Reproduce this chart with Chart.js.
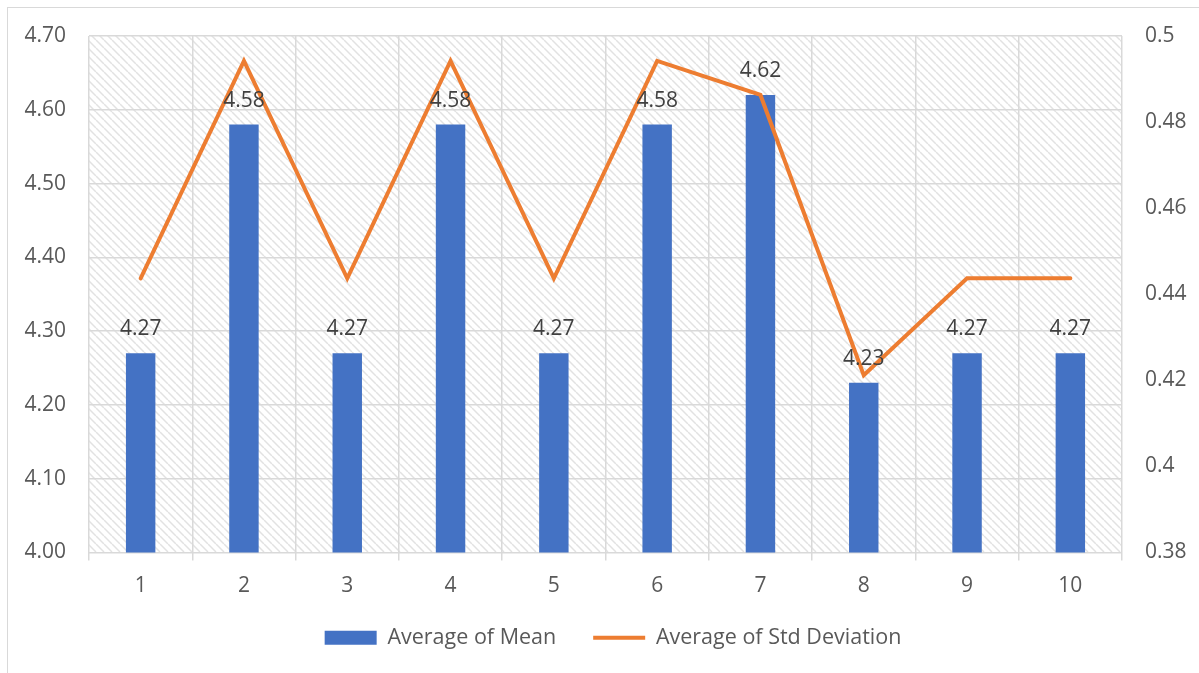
<!DOCTYPE html>
<html>
<head>
<meta charset="utf-8">
<script src="https://cdn.jsdelivr.net/npm/chart.js@4.4.1/dist/chart.umd.min.js"></script>
<style>
  html, body { margin: 0; padding: 0; background: #ffffff; }
  #wrap { position: relative; width: 1199px; height: 673px; }
  canvas { display: block; }
</style>
</head>
<body>
<div id="wrap"><canvas id="chart" width="1199" height="673"></canvas></div>
<script>
// Categories and series
const categories = ['1', '2', '3', '4', '5', '6', '7', '8', '9', '10'];
const meanValues = [4.27, 4.58, 4.27, 4.58, 4.27, 4.58, 4.62, 4.23, 4.27, 4.27];
const stdValues = [0.4437, 0.4942, 0.4437, 0.4942, 0.4437, 0.4942, 0.4863, 0.4212, 0.4437, 0.4437];

// Axis ranges
const meanAxis = { min: 4.0, max: 4.7, step: 0.1 };
const stdAxis = { min: 0.38, max: 0.5, step: 0.02 };

const FONT = "'Open Sans', 'DejaVu Sans', sans-serif";
const TEXT = '#595959';
const GRID = '#d9d9d9';
const BLUE = '#4472C4';
const ORANGE = '#ED7D31';

// Diagonal hatch used for the plot background
function makeHatch() {
  const s = 8;
  const c = document.createElement('canvas');
  c.width = s; c.height = s;
  const g = c.getContext('2d');
  g.fillStyle = '#ffffff';
  g.fillRect(0, 0, s, s);
  g.strokeStyle = '#e2e2e2';
  g.lineWidth = 1.5;
  for (let k = -1; k <= 1; k++) {
    g.beginPath();
    g.moveTo(k * s, 0);
    g.lineTo(k * s + s, s);
    g.stroke();
  }
  return c;
}

const backdrop = {
  id: 'backdrop',
  beforeDraw(chart) {
    const { ctx, chartArea: a } = chart;
    ctx.save();
    ctx.strokeStyle = GRID;
    ctx.lineWidth = 1;
    ctx.strokeRect(7.5, 7.5, 1400, 1000);
    ctx.fillStyle = ctx.createPattern(makeHatch(), 'repeat');
    ctx.fillRect(a.left, a.top, a.right - a.left, a.bottom - a.top);
    ctx.restore();
  }
};

// Nudge the legend block so it sits centred under the plot, just below the axis labels
const legendNudge = {
  id: 'legendNudge',
  afterLayout(chart) {
    const l = chart.legend;
    if (!l) return;
    l.top -= 8; l.bottom -= 8;
    l.left += 7.5; l.right += 7.5;
  }
};

// Value labels above each bar
const barLabels = {
  id: 'barLabels',
  afterDatasetsDraw(chart) {
    const { ctx } = chart;
    const meta = chart.getDatasetMeta(0);
    const data = chart.data.datasets[0].data;
    ctx.save();
    ctx.font = '21px ' + FONT;
    ctx.fillStyle = '#404040';
    ctx.textAlign = 'center';
    ctx.textBaseline = 'alphabetic';
    meta.data.forEach((bar, i) => {
      ctx.fillText(data[i].toFixed(2), bar.x, bar.y - 18);
    });
    ctx.restore();
  }
};

new Chart(document.getElementById('chart'), {
  data: {
    labels: categories,
    datasets: [
      {
        type: 'bar',
        label: 'Average of Mean',
        data: meanValues,
        backgroundColor: BLUE,
        borderColor: BLUE,
        borderWidth: 0,
        yAxisID: 'y',
        order: 2,
        categoryPercentage: 1,
        barPercentage: 0.285
      },
      {
        type: 'line',
        label: 'Average of Std Deviation',
        data: stdValues,
        borderColor: ORANGE,
        backgroundColor: ORANGE,
        borderWidth: 4,
        borderCapStyle: 'round',
        borderJoinStyle: 'miter',
        pointRadius: 0,
        tension: 0,
        fill: false,
        yAxisID: 'y1',
        order: 1
      }
    ]
  },
  options: {
    responsive: false,
    devicePixelRatio: 1,
    animation: false,
    layout: { padding: { top: 36, bottom: 6.5, left: 0, right: 0 } },
    plugins: {
      tooltip: { enabled: false },
      legend: {
        position: 'bottom',
        fullSize: false,
        labels: {
          font: { family: FONT, size: 21.5 },
          color: TEXT,
          usePointStyle: true,
          pointStyleWidth: 52,
          boxHeight: 14,
          padding: 37,
          sort: (a, b) => a.datasetIndex - b.datasetIndex,
          generateLabels(chart) {
            return chart.data.datasets.map((ds, i) => ({
              text: ds.label,
              datasetIndex: i,
              fillStyle: ds.type === 'bar' ? BLUE : ORANGE,
              strokeStyle: ds.type === 'bar' ? BLUE : ORANGE,
              lineWidth: ds.type === 'bar' ? 0 : 4,
              pointStyle: ds.type === 'bar' ? 'rect' : 'line',
              fontColor: TEXT,
              hidden: false
            }));
          }
        }
      }
    },
    scales: {
      x: {
        offset: true,
        grid: {
          offset: true,
          color: GRID,
          lineWidth: 1.5,
          drawTicks: true,
          tickLength: 8
        },
        border: { display: false },
        ticks: {
          color: TEXT,
          font: { family: FONT, size: 21 },
          padding: 13
        },
        afterFit(scale) { scale.height = 45.5; }
      },
      y: {
        position: 'left',
        min: meanAxis.min,
        max: meanAxis.max,
        grid: { color: GRID, lineWidth: 1.5, drawTicks: false },
        border: { display: false },
        ticks: {
          stepSize: meanAxis.step,
          color: TEXT,
          font: { family: FONT, size: 21 },
          padding: 23,
          callback: v => Number(v).toFixed(2)
        },
        afterFit(scale) { scale.width = 89; }
      },
      y1: {
        position: 'right',
        min: stdAxis.min,
        max: stdAxis.max,
        grid: { display: false, drawTicks: false },
        border: { display: false },
        ticks: {
          stepSize: stdAxis.step,
          color: TEXT,
          font: { family: FONT, size: 21 },
          padding: 23,
          callback: v => String(parseFloat(Number(v).toFixed(2)))
        },
        afterFit(scale) { scale.width = 77; }
      }
    }
  },
  plugins: [backdrop, legendNudge, barLabels]
});
</script>
</body>
</html>
